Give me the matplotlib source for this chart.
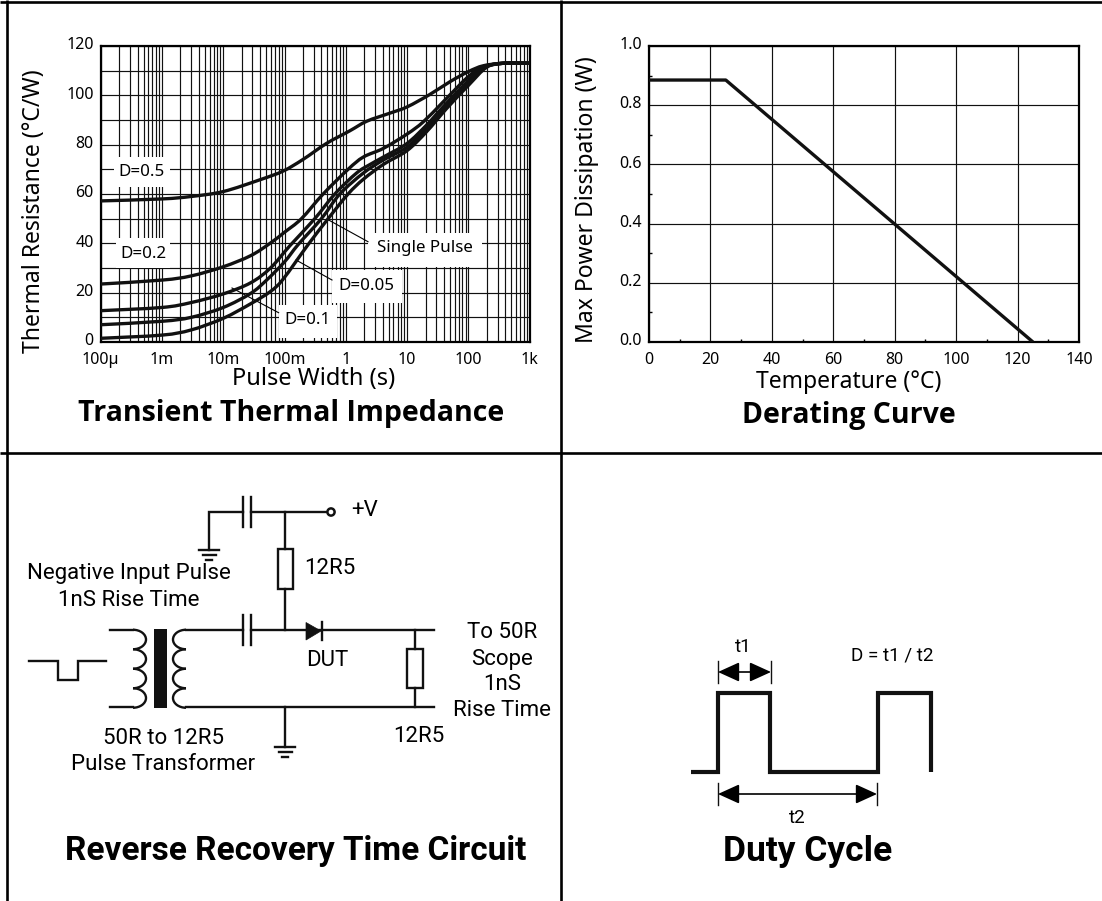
"""Datasheet figure: thermal impedance, derating, test circuit and duty cycle panels."""

import matplotlib
matplotlib.use("Agg")
import matplotlib.pyplot as plt
import numpy as np
from matplotlib.patches import Arc, Circle, PathPatch, Polygon, Rectangle
from matplotlib.path import Path
from matplotlib.transforms import ScaledTranslation

W, H = 1102, 901

# ---- transient thermal impedance ----
t_d05 = [1e-4, 1e-3, 3e-3, 1e-2, 0.04, 0.095, 0.2, 0.484, 1.16, 2.2, 5.28, 10, 23.7, 50, 100, 176, 372, 1000]
z_d05 = [57.2, 58, 59, 61, 65.8, 69.3, 74, 80.5, 85.6, 89.5, 92.8, 95.3, 100.4, 105.5, 109.6, 112, 113, 113]
t_d02 = [1e-4, 1e-3, 3e-3, 1e-2, 0.028, 0.058, 0.1, 0.189, 0.427, 1.09, 1.94, 4.11, 10, 18.5, 39, 100, 176, 372, 1000]
z_d02 = [23.5, 25.1, 26.8, 30.5, 35, 40, 44.5, 50, 60, 70, 75, 78.5, 84.3, 89.3, 97.4, 107.6, 111.4, 113, 113]
t_d01 = [1e-4, 1e-3, 3e-3, 1e-2, 0.028, 0.059, 0.122, 0.312, 0.662, 1.5, 2.5, 4.11, 10, 20.9, 39, 100, 176, 372, 1000]
z_d01 = [12.7, 14, 16, 19.5, 24, 30, 39, 50, 60, 68.5, 72, 75, 80.5, 88, 95.4, 106, 111.4, 113, 113]
t_d005 = [1e-4, 1e-3, 3e-3, 1e-2, 0.028, 0.051, 0.1, 0.167, 0.4, 0.8, 1.94, 4.11, 10, 20.9, 44.4, 100, 187, 372, 1000]
z_d005 = [7, 8.4, 10, 14, 19.7, 25.1, 32.5, 39.5, 50, 60, 68.5, 73.8, 79, 86.6, 96, 105, 111.4, 113, 113]
t_single = [1e-4, 1e-3, 3e-3, 1e-2, 0.028, 0.059, 0.095, 0.243, 0.515, 1.09, 1.94, 4.11, 10, 20.9, 44.4, 100, 200, 372, 1000]
z_single = [1.5, 2.8, 4.9, 9.6, 15.5, 20.5, 25.5, 39.5, 50, 60, 66, 72, 77.6, 85.3, 94.7, 104, 111.4, 113, 113]
z_curves = [(t_d05, z_d05), (t_d02, z_d02), (t_d01, z_d01), (t_d005, z_d005), (t_single, z_single)]

pulse_ticks = [1e-4, 1e-3, 1e-2, 1e-1, 1, 10, 100, 1000]
pulse_labels = ["100µ", "1m", "10m", "100m", "1", "10", "100", "1k"]
z_ticks = [0, 20, 40, 60, 80, 100, 120]

# ---- derating curve ----
temp = [0, 25, 125]
power = [0.885, 0.885, 0.0]
temp_ticks = [0, 20, 40, 60, 80, 100, 120, 140]
power_ticks = [0.0, 0.2, 0.4, 0.6, 0.8, 1.0]

# ---- test circuit wires, in page pixels ----
wires = [
    ([209, 209, 243], [550, 512, 512]),
    ([251, 327], [512, 512]),
    ([285, 285], [512, 549]),
    ([285, 285], [589, 630]),
    ([110, 133], [630, 630]),
    ([110, 133], [707, 707]),
    ([186, 243], [630, 630]),
    ([251, 434], [630, 630]),
    ([186, 434], [707, 707]),
    ([415, 415], [630, 649]),
    ([415, 415], [688, 707]),
    ([285, 285], [707, 747]),
    ([29, 58, 58, 78, 78, 106], [661, 661, 680, 680, 661, 661]),
]
cap_plates = [(243, 497, 527), (251, 497, 527), (243, 615, 645), (251, 615, 645)]
resistors = [(278, 549, 15, 40), (407, 649, 16, 39)]
grounds = [(209, 550), (285, 747)]
coil_y = [639.5, 659, 678.5, 698]

# ---- duty cycle waveform ----
wave_x = [691, 718, 718, 770, 770, 878, 878, 931, 931]
wave_y = [772, 772, 693, 693, 772, 772, 693, 693, 772]

TOP_FONT = "Noto Sans"
LOW_FONT = "Roboto"
TITLE_FONT = "Open Sans"


def axes_at(fig, left, top, right, bottom):
    return fig.add_axes([left / W, 1 - bottom / H, (right - left) / W, (bottom - top) / H], zorder=2)


def label(ax, x, y, s, size=12, family=LOW_FONT, **kw):
    ax.text(x, y, s, fontsize=size, family=family, ha=kw.pop("ha", "center"), va="center", color="black", **kw)


def style_axes(ax, fig):
    for sp in ax.spines.values():
        sp.set_linewidth(1.6)
    ax.set_axisbelow(True)
    ax.tick_params(axis="x", which="major", length=0, labelsize=11.5, pad=7)
    ax.tick_params(axis="y", which="major", length=0, labelsize=11.5, pad=5)
    for t in ax.get_xticklabels() + ax.get_yticklabels():
        t.set_family(TOP_FONT)
    # y labels sit a little above their gridlines in the original
    up = ScaledTranslation(0, 2 / 72, fig.dpi_scale_trans)
    for t in ax.get_yticklabels():
        t.set_transform(t.get_transform() + up)


def smooth_path(ts, zs):
    # bezier through the read points, worked out in decades so the log axis keeps it smooth
    u = np.log10(ts)
    v = np.asarray(zs, dtype=float)
    verts = [(ts[0], zs[0])]
    codes = [Path.MOVETO]
    for i in range(len(u) - 1):
        a, b = max(i - 1, 0), min(i + 2, len(u) - 1)
        c1 = (u[i] + (u[i + 1] - u[a]) / 6, v[i] + (v[i + 1] - v[a]) / 6)
        c2 = (u[i + 1] - (u[b] - u[i]) / 6, v[i + 1] - (v[b] - v[i]) / 6)
        verts += [(10 ** c1[0], c1[1]), (10 ** c2[0], c2[1]), (ts[i + 1], zs[i + 1])]
        codes += [Path.CURVE4] * 3
    return Path(verts, codes)


fig = plt.figure(figsize=(W / 100, H / 100), dpi=100)
page = fig.add_axes([0, 0, 1, 1], zorder=1)
page.set_xlim(0, W)
page.set_ylim(H, 0)
page.axis("off")

# panel frame
for xs, ys in [([0, W], [2, 2]), ([0, W], [453, 453]), ([6.5, 6.5], [0, H]), ([560.5, 560.5], [0, H])]:
    page.plot(xs, ys, color="black", lw=1.9, solid_capstyle="butt")

# ---- top left ----
ax = axes_at(fig, 100.7, 46, 529.6, 342)
ax.set_xscale("log")
ax.set_xlim(1e-4, 1e3)
ax.set_ylim(0, 120)
ax.set_xticks(pulse_ticks, pulse_labels)
ax.set_yticks(z_ticks)
ax.xaxis.set_minor_locator(matplotlib.ticker.LogLocator(base=10, subs=range(2, 10), numticks=20))
ax.xaxis.set_minor_formatter(matplotlib.ticker.NullFormatter())
ax.set_yticks(range(10, 120, 20), minor=True)
ax.tick_params(axis="both", which="minor", length=0)
ax.grid(True, which="both", color="#111111", lw=0.85)
style_axes(ax, fig)
for (bx0, by0, bx1, by1) in [(114, 157, 170, 187), (116, 238, 170, 268), (368, 233, 482, 267),
                             (332, 270, 402, 303), (279, 305, 337, 338)]:
    ax.add_patch(Rectangle((bx0, by0), bx1 - bx0, by1 - by0, transform=page.transData,
                           fc="white", ec="none", zorder=1.5))
for xs, ys in [([328.6, 368], [220, 241.7]), ([296, 332], [260, 280]), ([232, 278.6], [288, 312.7])]:
    ax.plot(xs, ys, color="black", lw=0.8, transform=page.transData, zorder=1.6)
for ts, zs in z_curves:
    ax.add_patch(PathPatch(smooth_path(ts, zs), fc="none", ec="#111111", lw=2.4, zorder=3))
for x, y, s in [(142, 172, "D=0.5"), (143.5, 254, "D=0.2"), (425, 248, "Single Pulse"),
                (366, 286, "D=0.05"), (307, 320, "D=0.1")]:
    ax.text(x, y, s, transform=page.transData, fontsize=12.2, family=TOP_FONT, ha="center", va="center", zorder=4)
label(page, 34, 211, "Thermal Resistance (°C/W)", 16.5, TOP_FONT, rotation=90)
label(page, 314, 379, "Pulse Width (s)", 17, TOP_FONT)
label(page, 291, 414, "Transient Thermal Impedance", 20.5, TITLE_FONT, fontweight="bold")

# ---- top right ----
ax2 = axes_at(fig, 649, 46, 1079, 342)
ax2.set_xlim(0, 140)
ax2.set_ylim(0, 1.0)
ax2.set_xticks(temp_ticks)
ax2.set_yticks(power_ticks, [f"{v:.1f}" for v in power_ticks])
ax2.grid(True, which="major", color="#111111", lw=0.85)
style_axes(ax2, fig)
ax2.set_xticks(range(10, 140, 20), minor=True)
ax2.set_yticks([0.1, 0.3, 0.5, 0.7, 0.9], minor=True)
ax2.tick_params(axis="both", which="minor", direction="in", length=2, width=1)
ax2.plot(temp, power, color="#111111", lw=2.4, zorder=3, solid_capstyle="butt")
label(page, 587, 200, "Max Power Dissipation (W)", 16.5, TOP_FONT, rotation=90)
label(page, 849, 382, "Temperature (°C)", 16.5, TOP_FONT)
label(page, 849, 415, "Derating Curve", 20.5, TITLE_FONT, fontweight="bold")

# ---- bottom left: circuit ----
for xs, ys in wires:
    page.plot(xs, ys, color="#111111", lw=1.7, solid_joinstyle="miter")
for x, y0, y1 in cap_plates:
    page.plot([x, x], [y0, y1], color="#111111", lw=1.7)
for x, y, w, h in resistors:
    page.add_patch(Rectangle((x, y), w, h, fc="white", ec="#111111", lw=1.7))
for x, y in grounds:
    for dy, half in [(0, 10), (5, 6.5), (10, 3)]:
        page.plot([x - half, x + half], [y + dy, y + dy], color="#111111", lw=1.7)
page.add_patch(Circle((331, 512), 3.6, fc="white", ec="#111111", lw=1.8, zorder=3))
page.add_patch(Polygon([(306, 622.5), (306, 640), (321, 631)], fc="#111111", ec="#111111", lw=0.5, zorder=3))
page.plot([322, 322], [622, 640], color="#111111", lw=1.7, zorder=3)
page.add_patch(Rectangle((154, 629), 12.5, 79, fc="#111111", ec="none"))
for yc in coil_y:
    page.add_patch(Arc((133, yc), 26, 19.5, theta1=-90, theta2=90, ec="#111111", lw=1.7))
    page.add_patch(Arc((186, yc), 26, 19.5, theta1=90, theta2=270, ec="#111111", lw=1.7))
for x, y, s in [(365, 511, "+V"), (330, 568, "12R5"), (128.5, 574, "Negative Input Pulse"),
                (128.5, 601, "1nS Rise Time"), (327, 660, "DUT"), (502, 632, "To 50R"),
                (502, 659, "Scope"), (502, 684, "1nS"), (502, 710, "Rise Time"),
                (418.5, 737, "12R5"), (163.5, 739, "50R to 12R5"), (163, 764, "Pulse Transformer")]:
    label(page, x, y, s, 16)
label(page, 296, 851, "Reverse Recovery Time Circuit", 24, fontweight="bold")

# ---- bottom right: duty cycle ----
page.plot(wave_x, wave_y, color="#111111", lw=3, solid_joinstyle="miter", solid_capstyle="butt")
for x0, x1, y in [(718, 771, 672), (718, 877, 794)]:
    page.annotate("", xy=(x0, y), xytext=(x1, y),
                  arrowprops=dict(arrowstyle="<|-|>,head_length=1.1,head_width=0.5", color="black",
                                  lw=1.2, shrinkA=0, shrinkB=0, mutation_scale=12))
    page.plot([x0, x0], [y - 11, y + 11], color="#111111", lw=1)
    page.plot([x1, x1], [y - 11, y + 11], color="#111111", lw=1)
label(page, 743, 647, "t1", 13.6)
label(page, 892, 655, "D = t1 / t2", 13.6)
label(page, 797, 818, "t2", 13.6)
label(page, 808, 852, "Duty Cycle", 25.5, fontweight="bold")

fig.savefig("out.png", dpi=100)
